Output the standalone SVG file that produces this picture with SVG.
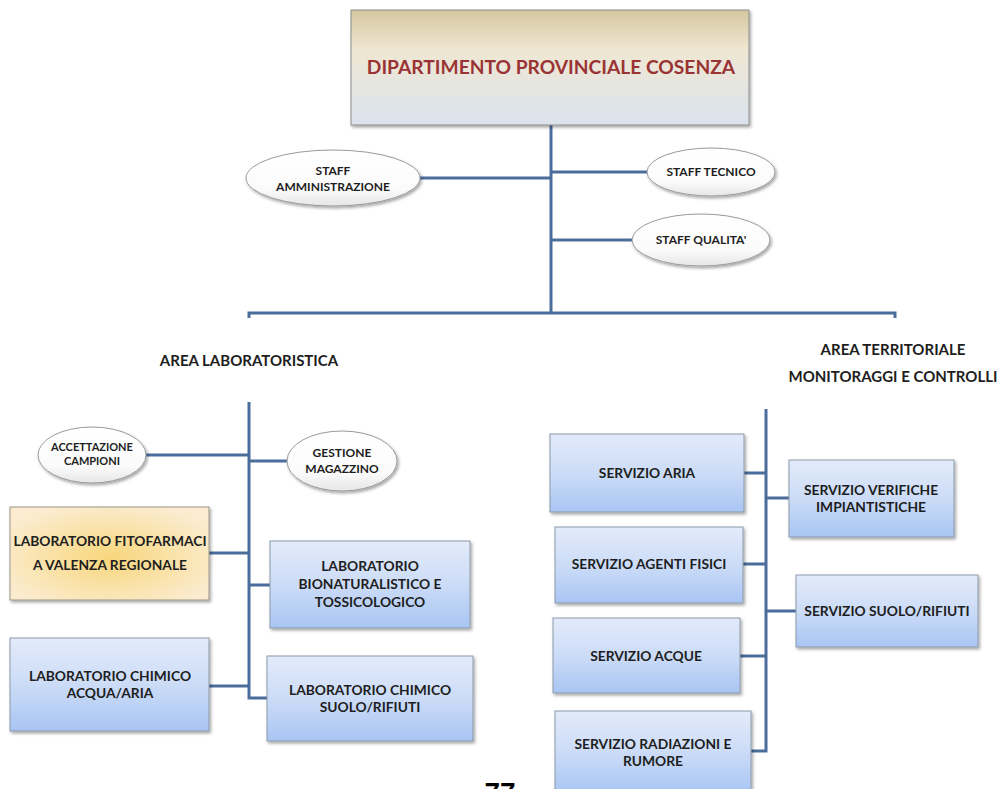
<svg xmlns="http://www.w3.org/2000/svg" width="1002" height="789" viewBox="0 0 1002 789">
<defs>
<linearGradient id="gTop" x1="0" y1="0" x2="0" y2="1">
<stop offset="0" stop-color="#d6c7a0"/><stop offset="0.35" stop-color="#efe7d3"/><stop offset="1" stop-color="#dbe3ee"/>
</linearGradient>
<linearGradient id="gBlue" x1="0" y1="0" x2="0" y2="1">
<stop offset="0" stop-color="#e3ebfa"/><stop offset="0.5" stop-color="#ccdcf7"/><stop offset="1" stop-color="#a8c5f3"/>
</linearGradient>
<radialGradient id="gYel" cx="0.5" cy="0.55" r="0.6">
<stop offset="0" stop-color="#f8d67c"/><stop offset="1" stop-color="#fbecd0"/>
</radialGradient>
<linearGradient id="gEll" x1="0" y1="0" x2="0" y2="1">
<stop offset="0" stop-color="#ffffff"/><stop offset="0.7" stop-color="#fbfbfb"/><stop offset="1" stop-color="#e6e6e6"/>
</linearGradient>
<filter id="sh" x="-10%" y="-10%" width="130%" height="130%">
<feDropShadow dx="1.5" dy="2" stdDeviation="1.5" flood-color="#000" flood-opacity="0.35"/>
</filter>
</defs>
<style>
.c{stroke:#4a6d9c;stroke-width:3;fill:none}
.b{fill:url(#gBlue);stroke:#8c99aa;stroke-width:1;filter:url(#sh)}
.e{fill:url(#gEll);stroke:#9a9a9a;stroke-width:1;filter:url(#sh)}
text{font-family:"Lato","Open Sans","Liberation Sans",sans-serif;font-weight:bold;fill:#1e1e1e;text-anchor:middle}
.t{font-size:13.8px}
.s{font-size:12px}
.h{font-size:15px}
</style>
<g id="connectors">
<path class="c" d="M551 125V313M420 178H551M551 172H648M551 240H632"/>
<path class="c" d="M249 318V313H895V318"/>
<path class="c" d="M249 402V698H267M146 455H249M249 461H288M209 553H249M249 585H270M209 686H249"/>
<path class="c" d="M766 409V751H751M744 473H766M766 498H789M743 564H766M766 611H796M740 656H766"/>
</g>
<g id="n-dip">
<rect x="351" y="10" width="398" height="115" fill="url(#gTop)" stroke="#8c8c8c" stroke-width="1" filter="url(#sh)"/>
<text x="551" y="74" style="font-size:19.2px;fill:#9a3434">DIPARTIMENTO PROVINCIALE COSENZA</text>
</g>
<g id="n-staff-amm">
<ellipse class="e" cx="333" cy="178" rx="87" ry="28"/>
<text class="s" x="333" y="175">STAFF</text><text class="s" x="333" y="191">AMMINISTRAZIONE</text>
</g>
<g id="n-staff-tec">
<ellipse class="e" cx="711" cy="172" rx="64" ry="24"/>
<text class="s" x="711" y="176">STAFF TECNICO</text>
</g>
<g id="n-staff-qual">
<ellipse class="e" cx="701" cy="240" rx="69" ry="26"/>
<text class="s" x="701" y="244">STAFF QUALITA'</text>
</g>
<g id="h-lab"><text class="h" x="249" y="366">AREA LABORATORISTICA</text></g>
<g id="h-terr"><text class="h" x="893" y="355">AREA TERRITORIALE</text><text class="h" x="893" y="382">MONITORAGGI E CONTROLLI</text></g>
<g id="n-accett">
<ellipse class="e" cx="92" cy="455" rx="54" ry="28"/>
<text x="92" y="451" style="font-size:11px">ACCETTAZIONE</text><text x="92" y="465" style="font-size:11px">CAMPIONI</text>
</g>
<g id="n-magaz">
<ellipse class="e" cx="342" cy="461" rx="55" ry="30"/>
<text class="s" x="342" y="457">GESTIONE</text><text class="s" x="342" y="473">MAGAZZINO</text>
</g>
<g id="n-fito">
<rect x="10" y="507" width="199" height="93" fill="url(#gYel)" stroke="#9a9486" stroke-width="1" filter="url(#sh)"/>
<text class="t" x="110" y="546">LABORATORIO FITOFARMACI</text><text class="t" x="110" y="570">A VALENZA REGIONALE</text>
</g>
<g id="n-bionat">
<rect class="b" x="270" y="541" width="200" height="87"/>
<text class="t" x="370" y="571">LABORATORIO</text><text class="t" x="370" y="589">BIONATURALISTICO E</text><text class="t" x="370" y="607">TOSSICOLOGICO</text>
</g>
<g id="n-chim-aa">
<rect class="b" x="10" y="638" width="199" height="93"/>
<text class="t" x="110" y="681">LABORATORIO CHIMICO</text><text class="t" x="110" y="698">ACQUA/ARIA</text>
</g>
<g id="n-chim-sr">
<rect class="b" x="267" y="656" width="206" height="85"/>
<text class="t" x="370" y="695">LABORATORIO  CHIMICO</text><text class="t" x="370" y="712">SUOLO/RIFIUTI</text>
</g>
<g id="n-aria">
<rect class="b" x="550" y="434" width="194" height="78"/>
<text class="t" x="647" y="478">SERVIZIO ARIA</text>
</g>
<g id="n-verif">
<rect class="b" x="789" y="460" width="165" height="77"/>
<text class="t" x="871" y="495">SERVIZIO VERIFICHE</text><text class="t" x="871" y="512">IMPIANTISTICHE</text>
</g>
<g id="n-agenti">
<rect class="b" x="555" y="527" width="188" height="76"/>
<text class="t" x="649" y="569">SERVIZIO AGENTI FISICI</text>
</g>
<g id="n-suolo">
<rect class="b" x="796" y="575" width="182" height="72"/>
<text class="t" x="887" y="616">SERVIZIO SUOLO/RIFIUTI</text>
</g>
<g id="n-acque">
<rect class="b" x="553" y="618" width="187" height="75"/>
<text class="t" x="646" y="661">SERVIZIO ACQUE</text>
</g>
<g id="n-radiaz">
<rect class="b" x="555" y="711" width="196" height="82"/>
<text class="t" x="653" y="749">SERVIZIO RADIAZIONI E</text><text class="t" x="653" y="766">RUMORE</text>
</g>
<g id="pagenum"><text x="500" y="802" style="font-size:28px;font-family:'Liberation Sans',sans-serif;fill:#000">77</text></g>
</svg>
